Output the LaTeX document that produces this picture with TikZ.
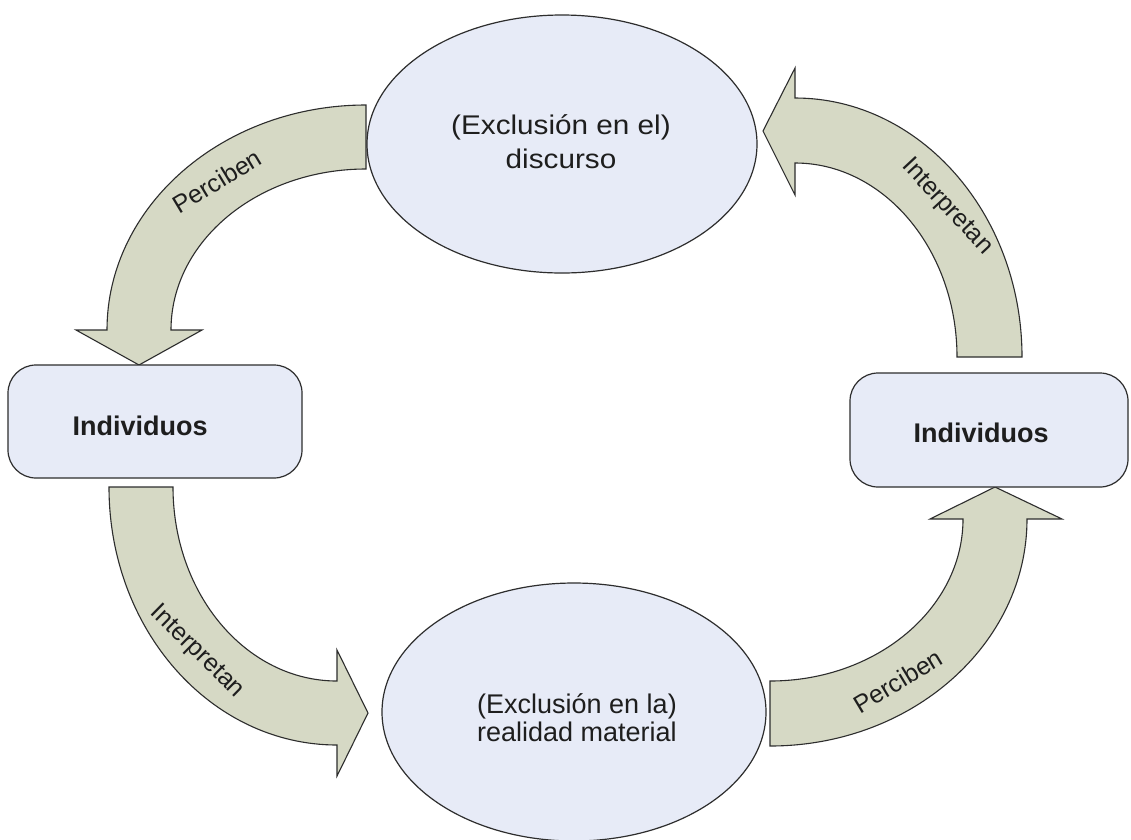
\documentclass[tikz,border=0pt]{standalone}
\usepackage{fontspec}
\setmainfont{Liberation Sans}
\newfontfamily\widefont[FakeStretch=1.1]{Liberation Sans}
\usetikzlibrary{shapes.geometric}
\definecolor{shapefill}{RGB}{231,235,247}
\definecolor{arrowfill}{RGB}{214,217,197}
\definecolor{outline}{RGB}{45,45,45}
\definecolor{ink}{RGB}{30,30,30}
\tikzset{
  oval/.style={ellipse, draw=outline, fill=shapefill, line width=1.2pt, inner sep=0pt},
  indbox/.style={rectangle, rounded corners=28pt, draw=outline, fill=shapefill, line width=1.2pt, inner sep=0pt},
  blockarrow/.style={draw=outline, fill=arrowfill, line width=1.1pt, line join=miter},
  ovaltext/.style={text=ink, align=center},
  boxtext/.style={text=ink, font=\bfseries\fontsize{27}{32}\selectfont, anchor=base},
  arrowtext/.style={text=ink, font=\fontsize{25}{28}\selectfont}
}
\begin{document}
\begin{tikzpicture}[x=1pt,y=-1pt]
\useasboundingbox (0,0) rectangle (1131,839);
\clip (0,0) rectangle (1131,839);
\fill[white] (0,0) rectangle (1131,839);

% curved block arrows
% Perciben: discourse -> left individuals
\path[blockarrow] (366,105) .. controls (223,105) and (107,206) .. (107,330)
  -- (76,330) -- (139,365) -- (202,330) -- (171,330)
  .. controls (171,241) and (258,169) .. (366,169) -- cycle;
% Interpretan: right individuals -> discourse
\path[blockarrow] (1022,357) .. controls (1022,214) and (920,98) .. (795,98)
  -- (795,68) -- (763,131) -- (795,195) -- (795,163)
  .. controls (884,163) and (957,250) .. (957,357) -- cycle;
% Interpretan: left individuals -> material reality
\path[blockarrow] (109,487) .. controls (109,630) and (211,745) .. (337,745)
  -- (337,776) -- (368,713) -- (337,650) -- (337,681)
  .. controls (246,681) and (173,594) .. (173,487) -- cycle;
% Perciben: material reality -> right individuals
\path[blockarrow] (770,746) .. controls (912,746) and (1027,644) .. (1027,519)
  -- (1062,519) -- (995,487) -- (930,519) -- (963,519)
  .. controls (963,608) and (877,681) .. (770,681) -- cycle;

% ovals
\node[oval, minimum width=390pt, minimum height=258pt] (disc) at (562,144) {};
\node[oval, minimum width=384pt, minimum height=258pt] (mat) at (574,712) {};
\node[ovaltext, font=\widefont\fontsize{27}{34}\selectfont] (disct) at (561,142)
  {(Exclusión en el)\\discurso};
\node[ovaltext, font=\fontsize{27}{28}\selectfont] (matt) at (577,718)
  {(Exclusión en la)\\realidad material};

% individuals boxes
\node[indbox, minimum width=294pt, minimum height=113pt] (indL) at (155,421.5) {};
\node[indbox, minimum width=278pt, minimum height=114pt] (indR) at (989,430) {};
\node[boxtext] (indLt) at ([shift={(-15,13.5)}]indL.center) {Individuos};
\node[boxtext] (indRt) at ([shift={(-8,12)}]indR.center) {Individuos};

% arrow labels
\node[arrowtext, rotate=31] (lab1) at (217,181) {Perciben};
\node[arrowtext, rotate=-47] (lab2) at (947,207) {Interpretan};
\node[arrowtext, rotate=-44.5] (lab3) at (197,652) {Interpretan};
\node[arrowtext, rotate=31] (lab4) at (898,681) {Perciben};
\end{tikzpicture}
\end{document}
